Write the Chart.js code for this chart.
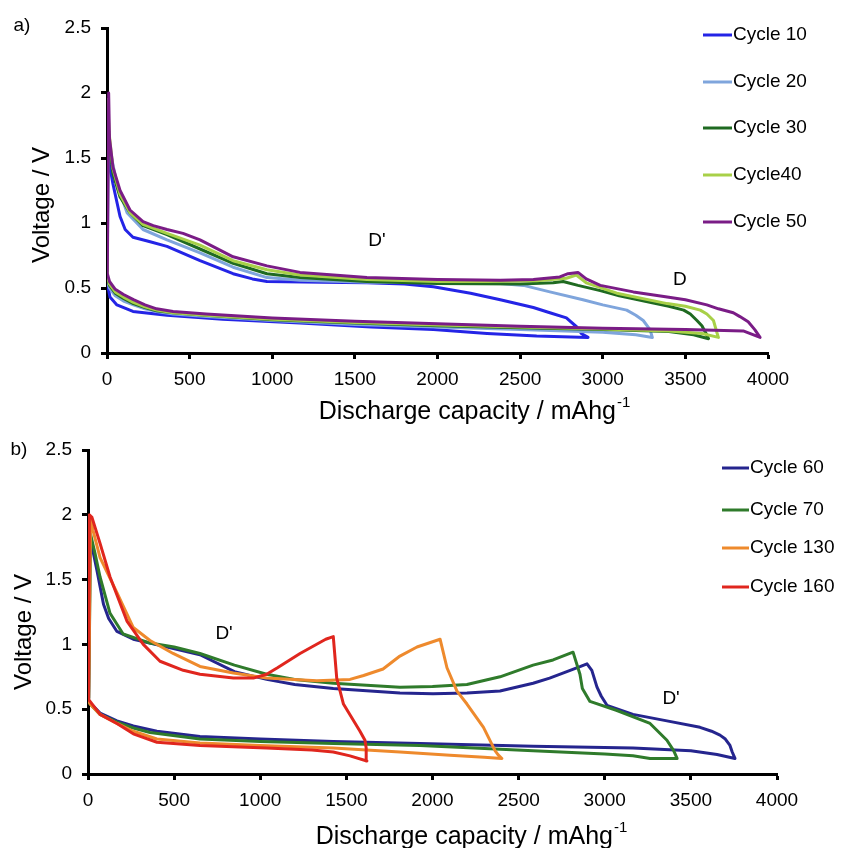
<!DOCTYPE html>
<html>
<head>
<meta charset="utf-8">
<script src="https://cdn.jsdelivr.net/npm/chart.js@4.4.1/dist/chart.umd.min.js"></script>
<style>
  html, body { margin: 0; padding: 0; background: #fff; }
  #wrap { position: relative; width: 842px; height: 848px; }
  canvas { position: absolute; left: 0; }
  #chartA { top: 0; }
  #chartB { top: 424px; }
</style>
</head>
<body>
<div id="wrap">
  <canvas id="chartA" width="842" height="424"></canvas>
  <canvas id="chartB" width="842" height="424"></canvas>
</div>
<script>
const FONT = '"Liberation Sans", Arial, sans-serif';

// axis ticks
const capTicks = [0, 500, 1000, 1500, 2000, 2500, 3000, 3500, 4000];
const voltTicks = [0, 0.5, 1, 1.5, 2, 2.5];

// ---- panel a: cycles 10-50 (discharge branch, then charge branch back to 0) ----
const c10Cap  = [0, 18, 60, 157, 363, 700, 1168, 1600, 1975, 2300, 2600, 2911,
                 2870, 2843, 2780, 2680, 2580, 2380, 2200, 1975, 1800, 1573, 1300, 968, 880, 763, 563, 363, 250, 157, 110, 79, 36, 15, 5, 2];
const c10Volt = [0.55, 0.43, 0.37, 0.32, 0.29, 0.26, 0.23, 0.2, 0.18, 0.15, 0.13, 0.12,
                 0.15, 0.2, 0.27, 0.31, 0.35, 0.41, 0.46, 0.51, 0.53, 0.54, 0.545, 0.55, 0.57, 0.61, 0.71, 0.82, 0.86, 0.89, 0.95, 1.05, 1.3, 1.45, 1.55, 0.55];

const c20Cap  = [0, 15, 50, 100, 160, 230, 300, 400, 600, 1000, 1500, 2000, 2500, 3000, 3200, 3300,
                 3286, 3245, 3200, 3145, 3000, 2880, 2680, 2520, 2380, 2000, 1573, 1168, 968, 763, 563, 363, 218, 121, 60, 20, 6, 2];
const c20Volt = [0.56, 0.5, 0.44, 0.4, 0.37, 0.34, 0.32, 0.3, 0.28, 0.25, 0.22, 0.2, 0.18, 0.16, 0.14, 0.12,
                 0.18, 0.25, 0.29, 0.33, 0.37, 0.41, 0.47, 0.52, 0.535, 0.54, 0.545, 0.56, 0.58, 0.66, 0.77, 0.87, 0.95, 1.08, 1.3, 1.55, 1.72, 0.56];

const c30Cap  = [0, 15, 50, 100, 160, 230, 300, 400, 600, 1000, 1500, 2000, 2500, 3000, 3400, 3550, 3640,
                 3625, 3600, 3570, 3530, 3490, 3400, 3285, 3100, 2985, 2850, 2760, 2700, 2500, 2000, 1573, 1168, 968, 763, 563, 363, 218, 139, 79, 36, 10, 4, 2];
const c30Volt = [0.58, 0.52, 0.46, 0.42, 0.38, 0.35, 0.325, 0.31, 0.29, 0.255, 0.23, 0.21, 0.195, 0.18, 0.165, 0.14, 0.11,
                 0.15, 0.21, 0.25, 0.3, 0.33, 0.36, 0.39, 0.44, 0.48, 0.52, 0.55, 0.54, 0.53, 0.535, 0.55, 0.58, 0.61, 0.69, 0.8, 0.91, 0.98, 1.08, 1.2, 1.38, 1.65, 1.85, 0.58];

const c40Cap  = [0, 15, 50, 100, 160, 230, 300, 400, 600, 1000, 1500, 2000, 2500, 3000, 3400, 3600, 3700,
                 3690, 3670, 3630, 3590, 3500, 3390, 3085, 2900, 2840, 2780, 2600, 2300, 2000, 1573, 1168, 968, 763, 563, 363, 218, 139, 79, 36, 12, 5, 2];
const c40Volt = [0.6, 0.53, 0.47, 0.43, 0.39, 0.355, 0.33, 0.31, 0.29, 0.26, 0.235, 0.215, 0.2, 0.185, 0.17, 0.15, 0.12,
                 0.16, 0.25, 0.3, 0.33, 0.36, 0.38, 0.46, 0.54, 0.6, 0.575, 0.555, 0.55, 0.55, 0.565, 0.6, 0.64, 0.71, 0.83, 0.92, 0.99, 1.08, 1.22, 1.42, 1.7, 1.95, 0.6];

const c50Cap  = [0, 15, 50, 100, 160, 230, 300, 400, 600, 1000, 1500, 2000, 2500, 3000, 3500, 3850, 3952,
                 3920, 3880, 3830, 3790, 3700, 3630, 3500, 3390, 3185, 2985, 2900, 2850, 2790, 2740, 2580, 2380, 2000, 1573, 1168, 968, 763, 563, 460, 363, 280, 218, 139, 79, 36, 15, 10, 2];
const c50Volt = [0.62, 0.55, 0.49, 0.45, 0.41, 0.37, 0.34, 0.32, 0.3, 0.27, 0.245, 0.225, 0.205, 0.19, 0.18, 0.17, 0.12,
                 0.18, 0.24, 0.28, 0.31, 0.34, 0.37, 0.41, 0.43, 0.47, 0.52, 0.57, 0.62, 0.61, 0.585, 0.565, 0.56, 0.565, 0.58, 0.62, 0.67, 0.74, 0.87, 0.92, 0.95, 0.98, 1.01, 1.1, 1.25, 1.43, 1.65, 2.0, 0.62];

const labelsA = ['Cycle 10', 'Cycle 20', 'Cycle 30', 'Cycle40', 'Cycle 50'];

// ---- panel b: cycles 60-160 ----
const c60Cap  = [0, 12, 70, 168, 263, 400, 650, 1000, 1424, 1927, 2584, 3164, 3500, 3652, 3756,
                 3740, 3727, 3700, 3669, 3620, 3553, 3361, 3164, 3013, 2980, 2955, 2925, 2897, 2860, 2780, 2680, 2584, 2392, 2200, 2003, 1811, 1424, 1200, 1037, 850, 650, 459, 263, 168, 120, 90, 52, 29, 12, 4];
const c60Volt = [0.58, 0.55, 0.47, 0.41, 0.37, 0.33, 0.29, 0.27, 0.25, 0.235, 0.215, 0.2, 0.18, 0.15, 0.12,
                 0.17, 0.22, 0.27, 0.3, 0.33, 0.36, 0.41, 0.46, 0.53, 0.6, 0.67, 0.8, 0.85, 0.83, 0.79, 0.74, 0.7, 0.64, 0.625, 0.62, 0.625, 0.66, 0.69, 0.73, 0.79, 0.92, 0.98, 1.04, 1.1, 1.2, 1.31, 1.57, 1.72, 1.8, 0.58];

const c70Cap  = [0, 12, 70, 168, 263, 360, 650, 1000, 1424, 1927, 2584, 3000, 3164, 3263, 3420,
                 3400, 3361, 3263, 3071, 2914, 2870, 2856, 2816, 2700, 2584, 2392, 2200, 2000, 1811, 1424, 1200, 1037, 850, 650, 500, 360, 204, 128, 70, 41, 15, 4];
const c70Volt = [0.58, 0.54, 0.46, 0.4, 0.355, 0.32, 0.27, 0.25, 0.235, 0.22, 0.18, 0.155, 0.14, 0.12, 0.12,
                 0.18, 0.26, 0.39, 0.49, 0.56, 0.66, 0.77, 0.94, 0.88, 0.84, 0.75, 0.69, 0.675, 0.67, 0.7, 0.73, 0.77, 0.84, 0.93, 0.98, 1.01, 1.08, 1.24, 1.52, 1.7, 1.85, 0.58];

const c130Cap  = [0, 12, 70, 168, 263, 400, 650, 1000, 1424, 1811, 2102, 2300, 2403,
                  2380, 2363, 2296, 2200, 2142, 2084, 2044, 1910, 1811, 1713, 1600, 1521, 1329, 1037, 844, 650, 494, 360, 263, 168, 70, 29, 15, 4];
const c130Volt = [0.57, 0.54, 0.46, 0.39, 0.33, 0.27, 0.24, 0.22, 0.2, 0.17, 0.145, 0.13, 0.12,
                  0.15, 0.18, 0.36, 0.54, 0.64, 0.82, 1.04, 0.98, 0.91, 0.81, 0.76, 0.73, 0.72, 0.74, 0.78, 0.83, 0.93, 1.03, 1.13, 1.4, 1.67, 1.88, 1.98, 0.57];

const c160Cap  = [0, 12, 70, 168, 263, 400, 650, 1037, 1300, 1424, 1521, 1619,
                  1615, 1608, 1579, 1483, 1444, 1424, 1380, 1231, 1100, 1037, 960, 844, 650, 553, 418, 321, 226, 128, 70, 23, 8, 3];
const c160Volt = [0.58, 0.56, 0.46, 0.39, 0.31, 0.245, 0.22, 0.2, 0.185, 0.17, 0.14, 0.1,
                  0.2, 0.26, 0.33, 0.54, 0.74, 1.06, 1.04, 0.93, 0.82, 0.77, 0.74, 0.74, 0.77, 0.8, 0.87, 1.0, 1.18, 1.52, 1.78, 1.98, 2.0, 0.58];

const labelsB = ['Cycle 60', 'Cycle 70', 'Cycle 130', 'Cycle 160'];

const colorsA = ['#2424e6', '#7fa5dc', '#1f6a21', '#a8d048', '#7a1c86'];
const colorsB = ['#25258e', '#2f7b2b', '#ee8a2d', '#e0261e'];

const yTitle = 'Voltage / V';
const xTitle = 'Discharge capacity / mAhg';

const toPoints = (caps, volts) => caps.map((x, i) => ({ x: x, y: volts[i] }));

function makeDatasets(series, labels, colors) {
    return series.map((s, i) => ({
        label: labels[i],
        data: toPoints(s[0], s[1]),
        borderColor: colors[i],
        backgroundColor: colors[i],
        borderWidth: 3,
        showLine: true,
        pointRadius: 0,
        borderJoinStyle: 'round',
        tension: 0,
        // later cycles are drawn on top
        order: series.length - i
    }));
}

// titles, panel letter, peak labels and the legend
const figText = {
    id: 'figText',
    afterDraw(chart, args, o) {
        const ctx = chart.ctx;
        const xs = chart.scales.x, ys = chart.scales.y;
        ctx.save();
        ctx.fillStyle = '#000';
        ctx.textBaseline = 'middle';
        ctx.textAlign = 'center';

        ctx.font = '19px ' + FONT;
        ctx.fillText(o.panel, o.panelPos[0], o.panelPos[1]);

        ctx.font = '19px ' + FONT;
        o.notes.forEach(n => {
            ctx.fillText(n.text, xs.getPixelForValue(n.x), ys.getPixelForValue(n.y));
        });

        ctx.save();
        ctx.translate(o.yTitlePos[0], o.yTitlePos[1]);
        ctx.rotate(-Math.PI / 2);
        ctx.font = '24px ' + FONT;
        ctx.fillText(yTitle, 0, 0);
        ctx.restore();

        ctx.textAlign = 'left';
        ctx.font = '25px ' + FONT;
        const wMain = ctx.measureText(xTitle).width;
        ctx.font = '15px ' + FONT;
        const wSup = ctx.measureText('-1').width;
        const x0 = o.xTitlePos[0] - (wMain + wSup) / 2;
        ctx.font = '25px ' + FONT;
        ctx.fillText(xTitle, x0, o.xTitlePos[1]);
        ctx.font = '15px ' + FONT;
        ctx.fillText('-1', x0 + wMain + 1, o.xTitlePos[1] - 9);

        // legend
        ctx.font = '19px ' + FONT;
        chart.data.datasets.forEach((ds, i) => {
            const y = o.legend.y[i];
            ctx.strokeStyle = ds.borderColor;
            ctx.lineWidth = 3;
            ctx.beginPath();
            ctx.moveTo(o.legend.x0, y);
            ctx.lineTo(o.legend.x1, y);
            ctx.stroke();
            ctx.fillText(ds.label, o.legend.x1 + 1, y);
        });
        ctx.restore();
    }
};

function makeChart(id, datasets, area, text) {
    const H = 424, W = 842;
    return new Chart(document.getElementById(id), {
        type: 'scatter',
        data: { datasets: datasets },
        plugins: [figText],
        options: {
            responsive: false,
            animation: false,
            layout: { padding: { top: area.top, right: W - area.right, left: 0, bottom: 0 } },
            plugins: {
                legend: { display: false },
                tooltip: { enabled: false },
                figText: text
            },
            scales: {
                x: {
                    type: 'linear',
                    min: 0, max: 4000,
                    afterBuildTicks: s => { s.ticks = capTicks.map(v => ({ value: v })); },
                    afterFit: s => { s.height = H - area.bottom; s.paddingLeft = 0; s.paddingRight = 0; },
                    ticks: {
                        color: '#000', padding: 9, maxRotation: 0, autoSkip: false,
                        font: { family: FONT, size: 19 },
                        callback: v => String(v)
                    },
                    grid: { drawOnChartArea: false, drawTicks: true, tickLength: 6, tickWidth: 3, tickColor: '#000' },
                    border: { display: true, color: '#000', width: 3 }
                },
                y: {
                    type: 'linear',
                    min: 0, max: 2.5,
                    afterBuildTicks: s => { s.ticks = voltTicks.map(v => ({ value: v })); },
                    afterFit: s => { s.width = area.left; s.paddingTop = 0; s.paddingBottom = 0; },
                    ticks: {
                        color: '#000', padding: 10, autoSkip: false,
                        font: { family: FONT, size: 19 },
                        callback: v => String(v)
                    },
                    grid: { drawOnChartArea: false, drawTicks: true, tickLength: 6, tickWidth: 3, tickColor: '#000' },
                    border: { display: true, color: '#000', width: 3 }
                }
            }
        }
    });
}

makeChart('chartA',
    makeDatasets([[c10Cap, c10Volt], [c20Cap, c20Volt], [c30Cap, c30Volt], [c40Cap, c40Volt], [c50Cap, c50Volt]], labelsA, colorsA),
    { left: 107, right: 768, top: 28, bottom: 353 },
    {
        panel: 'a)', panelPos: [22, 26],
        notes: [{ text: "D'", x: 1634, y: 0.86 }, { text: 'D', x: 3467, y: 0.56 }],
        yTitlePos: [42, 205], xTitlePos: [474, 412],
        legend: { x0: 703, x1: 732, y: [35, 82, 128, 175, 222] }
    });

makeChart('chartB',
    makeDatasets([[c60Cap, c60Volt], [c70Cap, c70Volt], [c130Cap, c130Volt], [c160Cap, c160Volt]], labelsB, colorsB),
    { left: 88, right: 777, top: 26, bottom: 350 },
    {
        panel: 'b)', panelPos: [19, 26],
        notes: [{ text: "D'", x: 790, y: 1.08 }, { text: "D'", x: 3385, y: 0.58 }],
        yTitlePos: [24, 208], xTitlePos: [471, 413],
        legend: { x0: 722, x1: 749, y: [44, 86, 124, 163] }
    });
</script>
</body>
</html>
